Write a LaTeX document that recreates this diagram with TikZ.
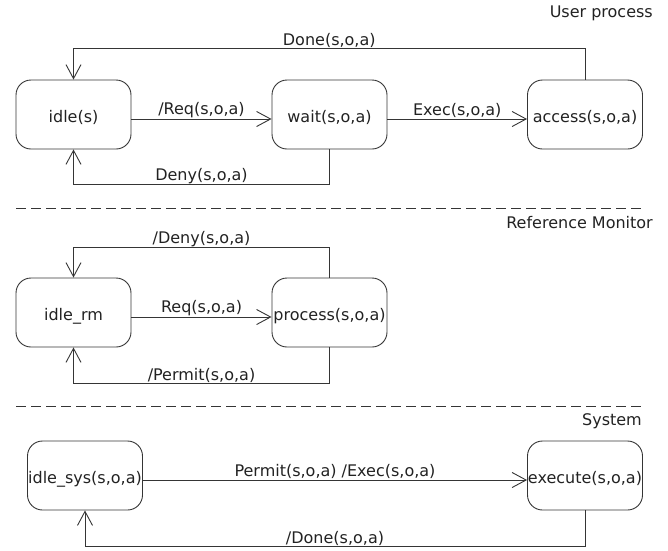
\documentclass[tikz,border=0pt]{standalone}
\usepackage{fontspec}
\setmainfont{DejaVu Sans}
\usetikzlibrary{arrows.meta}
\definecolor{ln}{HTML}{353535}
\definecolor{tx}{HTML}{222222}
\begin{document}
\begin{tikzpicture}[x=1pt,y=-1pt,
  font=\fontsize{16}{19}\selectfont, text=tx,
  statebox/.style={draw=ln, line width=0.9pt, rounded corners=15pt,
    minimum width=115pt, minimum height=69pt, inner sep=0pt,
    text height=17.5pt, text depth=2pt},
  arr/.style={draw=ln, line width=0.9pt, -{Straight Barb[length=14pt,width=15pt,line width=0.9pt]}},
  lbl/.style={above, inner sep=0.5pt},
  title/.style={anchor=east, inner sep=0pt},
  sep/.style={draw=ln, line width=0.9pt, dash pattern=on 10pt off 5pt}]
\useasboundingbox (0,0) rectangle (668,550);
% titles
\node[title] (t1) at (653,13) {User process};
\node[title] (t2) at (653,223) {Reference Monitor};
\node[title] (t3) at (642,421) {System};
% separators
\coordinate (s1a) at (16,208); \coordinate (s1b) at (642,208);
\coordinate (s2a) at (16,406); \coordinate (s2b) at (642,406);
\draw[sep] (s1a) -- (s1b);
\draw[sep] (s2a) -- (s2b);
% user process
\node[statebox] (idle) at (73.5,114.5) {idle(s)};
\node[statebox] (wait) at (329.5,114.5) {wait(s,o,a)};
\node[statebox] (access) at (585,114.5) {access(s,o,a)};
\draw[arr] ([yshift=-4.5pt]idle.east) -- node[lbl]{/Req(s,o,a)} ([yshift=-4.5pt]wait.west);
\draw[arr] ([yshift=-4.5pt]wait.east) -- node[lbl]{Exec(s,o,a)} ([yshift=-4.5pt]access.west);
\draw[arr] (access.north) -- ++(0,-31) -| node[lbl,pos=0.25]{Done(s,o,a)} (idle.north);
\draw[arr] (wait.south) -- ++(0,35) -| node[lbl,pos=0.25]{Deny(s,o,a)} (idle.south);
% reference monitor
\node[statebox] (idlerm) at (73.5,312.5) {idle\_rm};
\node[statebox] (process) at (329.5,312.5) {process(s,o,a)};
\draw[arr] ([yshift=-4.5pt]idlerm.east) -- node[lbl]{Req(s,o,a)} ([yshift=-4.5pt]process.west);
\draw[arr] (process.north) -- ++(0,-30) -| node[lbl,pos=0.25]{/Deny(s,o,a)} (idlerm.north);
\draw[arr] (process.south) -- ++(0,36) -| node[lbl,pos=0.25]{/Permit(s,o,a)} (idlerm.south);
% system
\node[statebox] (idlesys) at (85,475.5) {idle\_sys(s,o,a)};
\node[statebox] (execute) at (585,475.5) {execute(s,o,a)};
\draw[arr] ([yshift=-4.5pt]idlesys.east) -- node[lbl]{Permit(s,o,a) /Exec(s,o,a)} ([yshift=-4.5pt]execute.west);
\draw[arr] (execute.south) -- ++(0,36) -| node[lbl,pos=0.25]{/Done(s,o,a)} (idlesys.south);
\end{tikzpicture}
\end{document}
